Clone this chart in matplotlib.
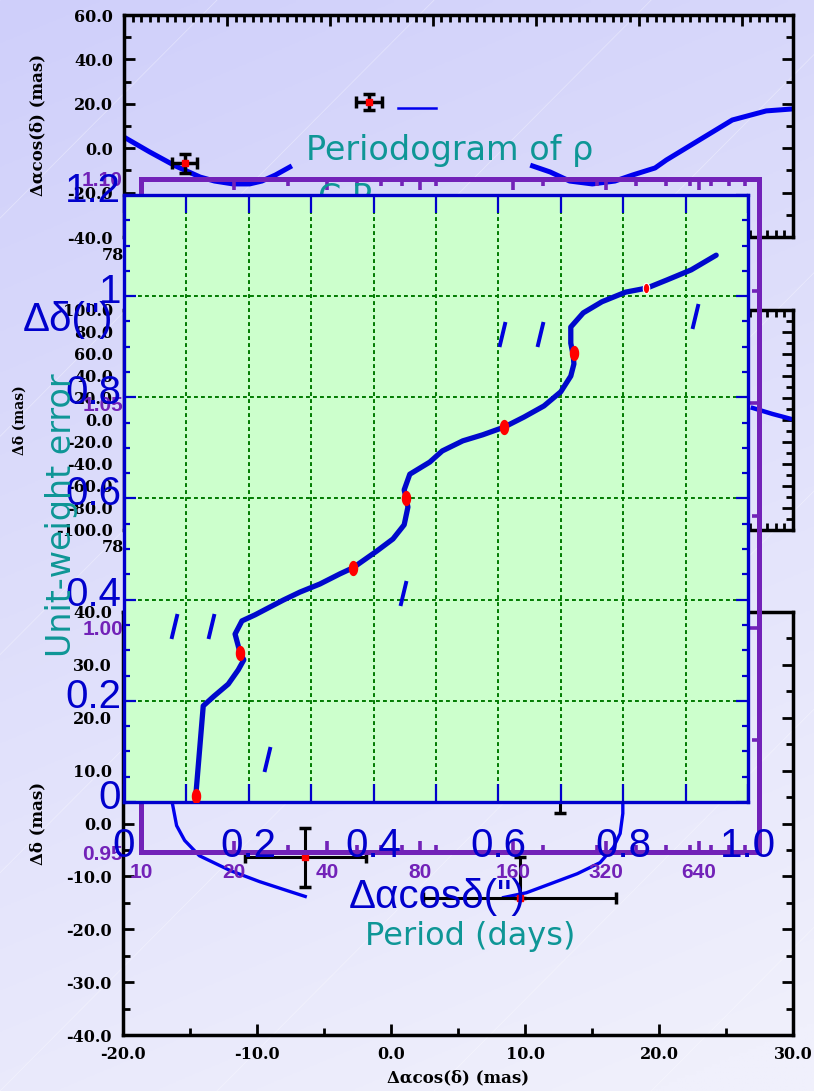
import numpy as np
import matplotlib.pyplot as plt
from matplotlib.ticker import MultipleLocator, LogLocator, NullFormatter
from matplotlib.path import Path
from matplotlib.transforms import ScaledTranslation
from matplotlib import font_manager

nan = np.nan

# ---- green panel (unit-weight error style curve) ----
curve_x = [0.115, 0.127, 0.144, 0.167, 0.183, 0.192, 0.186, 0.178, 0.189, 0.210,
           0.255, 0.282, 0.314, 0.346, 0.367, 0.405, 0.431, 0.449, 0.455, 0.452,
           0.449, 0.458, 0.490, 0.510, 0.543, 0.575, 0.609, 0.641, 0.673, 0.700,
           0.716, 0.721, 0.720, 0.716, 0.716, 0.736, 0.766, 0.804, 0.838, 0.870,
           0.909, 0.949]
curve_y = [0.012, 0.190, 0.209, 0.233, 0.261, 0.281, 0.295, 0.332, 0.358, 0.370,
           0.399, 0.415, 0.431, 0.451, 0.463, 0.496, 0.520, 0.548, 0.583, 0.601,
           0.617, 0.648, 0.672, 0.694, 0.714, 0.726, 0.741, 0.761, 0.783, 0.811,
           0.842, 0.866, 0.882, 0.907, 0.939, 0.967, 0.989, 1.008, 1.016, 1.032,
           1.052, 1.081]
dots_x = [0.115, 0.186, 0.367, 0.452, 0.609, 0.721, 0.837]
dots_y = [0.012, 0.295, 0.463, 0.601, 0.741, 0.888, 1.016]
slash_x = [0.080, 0.139, 0.229, 0.447, 0.606, 0.667, 0.915]
slash_y = [0.348, 0.348, 0.085, 0.413, 0.925, 0.925, 0.961]
green_xticks = [0, 0.1, 0.2, 0.3, 0.4, 0.5, 0.6, 0.7, 0.8, 0.9, 1.0]
green_xlabels = ['0', '', '0.2', '', '0.4', '', '0.6', '', '0.8', '', '1.0']
green_yticks = [0, 0.2, 0.4, 0.6, 0.8, 1.0, 1.2]
green_ylabels = ['0', '0.2', '0.4', '0.6', '0.8', '1', '1.2']

# ---- purple periodogram frame ----
period_ticks = [10, 20, 40, 80, 160, 320, 640]
uwe_ticks = [0.95, 1.00, 1.05, 1.10]
uwe_labels = ['0.95', '1.00', '1.05', '1.10']

# ---- black astrometry panels ----
top_t = [0.0, 0.25, 0.50, 0.74, 0.88, 1.06, 1.22, 1.34, 1.47, 1.61, nan,
         3.97, 4.14, 4.33, 4.55, 4.77, 4.94, 5.16, 5.27, 5.59, 5.91, 6.24, 6.50]
top_v = [5.0, -1.7, -8.0, -13.0, -14.8, -16.1, -16.1, -14.8, -12.1, -8.5, nan,
         -8.0, -10.7, -14.8, -16.1, -14.8, -12.1, -8.9, -5.3, 3.7, 12.7, 16.8, 17.7]
top_flat_t = [2.66, 3.03]
top_flat_v = [18.1, 18.1]
top_pts_t = [0.59, 2.38]
top_pts_v = [-6.7, 20.8]
top_pts_terr = [0.12, 0.13]
top_pts_verr = [4.3, 3.6]

mid_t = [6.11, 6.30, 6.50]
mid_v = [10.9, 5.5, 0.5]

orbit_x = [-16.3, -16.0, -15.4, -14.3, -12.0, -9.8, -7.5, -6.4, nan,
           8.4, 10.1, 11.9, 13.9, 15.6, 16.6, 17.1, 17.3, 17.3]
orbit_y = [3.6, -0.4, -3.2, -6.1, -8.9, -11.0, -12.9, -13.8, nan,
           -14.0, -13.1, -11.4, -9.5, -7.4, -4.5, -1.9, 1.9, 3.6]
obs_x = [-6.4, 9.6, 12.6]
obs_y = [-6.4, -14.0, 8.0]
obs_xerr = [4.5, 7.2, 0.3]
obs_yerr_lo = [5.6, 0.0, 6.0]
obs_yerr_hi = [5.6, 7.6, 6.0]

W, H = 814, 1091
BLUE = '#0000CC'
PURPLE = '#7222B8'
TEAL = '#0E9696'

names = {f.name for f in font_manager.fontManager.ttflist}
blue_font = 'Liberation Sans Narrow' if 'Liberation Sans Narrow' in names else 'Liberation Sans'
blue_size = 31 if blue_font == 'Liberation Sans Narrow' else 29

plt.rcParams['font.family'] = 'DejaVu Serif'
plt.rcParams['font.weight'] = 'bold'

fig = plt.figure(figsize=(W / 100, H / 100), dpi=100)


def box(x0, y0, x1, y1):
    return [x0 / W, 1 - y1 / H, (x1 - x0) / W, (y1 - y0) / H]


def ftext(x, y, s, **kw):
    return fig.text(x / W, 1 - y / H, s, ha='center', va='center', **kw)


# background gradient
bg = fig.add_axes([0, 0, 1, 1], zorder=-10)
yy, xx = np.mgrid[0:1:300j, 0:1:300j]
t = np.clip(0.8 * yy + 0.25 * xx, 0, 1)
c0 = np.array([207, 207, 250]) / 255
c1 = np.array([240, 240, 252]) / 255
bg.imshow(c0 + (c1 - c0) * t[..., None], extent=[0, 1, 0, 1], aspect='auto')
for k in np.linspace(-0.6, 1.0, 9):
    bg.plot([0, 1], [k, k + 0.75], color='white', lw=0.6, alpha=0.35)
bg.set_xlim(0, 1)
bg.set_ylim(0, 1)
bg.axis('off')


def black_style(ax):
    ax.set_facecolor('none')
    for s in ax.spines.values():
        s.set_linewidth(2.5)
    ax.tick_params(which='both', direction='in', top=True, right=True,
                   width=2, labelsize=11.5, pad=8)
    ax.tick_params(which='major', length=8)
    ax.tick_params(which='minor', length=5)


# top panel
ax_t = fig.add_axes(box(124, 15, 793, 237), zorder=1)
black_style(ax_t)
ax_t.plot(top_t, top_v, color='#0000EE', lw=3.6)
ax_t.plot(top_flat_t, top_flat_v, color='#0000EE', lw=1.8)
ax_t.errorbar(top_pts_t, top_pts_v, xerr=top_pts_terr, yerr=top_pts_verr, fmt='s',
              color='red', ms=5, ecolor='black', elinewidth=2.5, capsize=4, capthick=2.5)
ax_t.set_xlim(0, 6.5)
ax_t.set_ylim(-40, 60)
ax_t.xaxis.set_major_locator(MultipleLocator(1))
ax_t.xaxis.set_minor_locator(MultipleLocator(1 / 12))
ax_t.tick_params(labelbottom=False)
ax_t.set_yticks(np.arange(-40, 61, 20), [f'{v:.1f}' for v in np.arange(-40, 61, 20)])
ax_t.yaxis.set_minor_locator(MultipleLocator(10))

# middle panel
ax_m = fig.add_axes(box(124, 310, 793, 530), zorder=1)
black_style(ax_m)
ax_m.plot(mid_t, mid_v, color='#0000EE', lw=3.2)
ax_m.set_xlim(0, 6.5)
ax_m.set_ylim(-100, 100)
ax_m.xaxis.set_major_locator(MultipleLocator(1))
ax_m.xaxis.set_minor_locator(MultipleLocator(1 / 12))
ax_m.tick_params(labelbottom=False)
ax_m.set_yticks(np.arange(-100, 101, 20), [f'{v:.1f}' for v in np.arange(-100, 101, 20)])
ax_m.yaxis.set_minor_locator(MultipleLocator(10))

# bottom panel
ax_b = fig.add_axes(box(123, 612, 793, 1035), zorder=1)
black_style(ax_b)
ax_b.plot(orbit_x, orbit_y, color='#0000EE', lw=2.4)
ax_b.errorbar(obs_x, obs_y, xerr=obs_xerr, yerr=[obs_yerr_lo, obs_yerr_hi], fmt='s',
              color='red', ms=4, ecolor='black', elinewidth=2.2, capsize=4, capthick=2.5)
ax_b.set_xlim(-20, 30)
ax_b.set_ylim(-40, 40)
ax_b.set_xticks(np.arange(-20, 31, 10), [f'{v:.1f}' for v in np.arange(-20, 31, 10)])
ax_b.xaxis.set_minor_locator(MultipleLocator(5))
ax_b.set_yticks(np.arange(-40, 41, 10), [f'{v:.1f}' for v in np.arange(-40, 41, 10)])
ax_b.yaxis.set_minor_locator(MultipleLocator(5))

ftext(38, 125, 'Δαcos(δ) (mas)', rotation=90, fontsize=12, zorder=1.5)
ftext(20, 420, 'Δδ (mas)', rotation=90, fontsize=10, zorder=1.5)
ftext(38, 823, 'Δδ (mas)', rotation=90, fontsize=12, zorder=1.5)
ftext(458, 1078, 'Δαcos(δ) (mas)', fontsize=12, zorder=1.5)
ftext(113, 255, '78', fontsize=11.5, zorder=1.5)
ftext(113, 548, '78', fontsize=11.5, zorder=1.5)

# purple periodogram frame
ax_p = fig.add_axes(box(141, 179, 759, 852), zorder=2)
ax_p.set_facecolor('none')
ax_p.set_xscale('log')
ax_p.set_xlim(10, 1000)
ax_p.set_ylim(0.95, 1.10)
for s in ax_p.spines.values():
    s.set_linewidth(3.6)
    s.set_color(PURPLE)
ax_p.set_xticks(period_ticks, [str(p) for p in period_ticks], color=PURPLE,
                fontfamily='Liberation Sans', fontweight='bold', fontsize=15)
ax_p.xaxis.set_minor_locator(LogLocator(base=10, subs=np.arange(2, 10)))
ax_p.xaxis.set_minor_formatter(NullFormatter())
ax_p.set_yticks(uwe_ticks, uwe_labels, color=PURPLE,
                fontfamily='Liberation Sans', fontweight='bold', fontsize=15)
ax_p.yaxis.set_minor_locator(MultipleLocator(0.025))
ax_p.tick_params(which='both', direction='in', top=True, right=True,
                 color=PURPLE, width=2.6)
ax_p.tick_params(axis='x', pad=8)
ax_p.tick_params(axis='y', pad=13)
ax_p.tick_params(which='major', length=8)
ax_p.tick_params(which='minor', length=5)

ftext(345, 198, 'C P', fontsize=24, color=TEAL, family='DejaVu Sans',
      fontweight='normal', zorder=2.5)

# green panel on top
ax_g = fig.add_axes(box(124, 195, 748, 802), zorder=3)
ax_g.set_facecolor('#CCFFCC')
for s in ax_g.spines.values():
    s.set_linewidth(2.4)
    s.set_color(BLUE)
ax_g.grid(True, color='#007A00', lw=1.4, ls=(0, (2, 1.6)))
ax_g.plot(curve_x, curve_y, color='#0008CC', lw=3.8, solid_capstyle='round',
          solid_joinstyle='round', zorder=3)
th = np.linspace(0, 2 * np.pi, 40)
ell = Path(np.column_stack([0.62 * np.cos(th), np.sin(th)]), closed=True)
ax_g.plot(dots_x[:-1], dots_y[:-1], ls='none', marker=ell, ms=11, color='red', mec='none', zorder=4)
ax_g.plot(dots_x[-1:], dots_y[-1:], ls='none', marker=ell, ms=7.5, color='red', mec='white', mew=0.8, zorder=4)
slash = Path([(-0.12, -0.5), (0.12, 0.5)], [Path.MOVETO, Path.LINETO])
ax_g.plot(slash_x, slash_y, ls='none', marker=slash, ms=18, mec='#0000DD', mew=2.8, zorder=4)
ax_g.set_xlim(0, 1)
ax_g.set_ylim(0, 1.2)
ax_g.set_xticks(green_xticks, green_xlabels, color=BLUE, fontfamily=blue_font,
                fontweight='normal', fontsize=blue_size)
ax_g.set_yticks(green_yticks, green_ylabels, color=BLUE, fontfamily=blue_font,
                fontweight='normal', fontsize=blue_size)
ax_g.yaxis.set_minor_locator(MultipleLocator(0.05))
ax_g.tick_params(which='both', direction='in', top=True, right=True, color=BLUE, width=1.6)
ax_g.tick_params(axis='x', which='major', length=13, pad=18)
ax_g.tick_params(axis='y', which='major', length=8.6, pad=2)
ax_g.tick_params(axis='y', which='minor', length=4.3)
for lab in ax_g.get_yticklabels():
    lab.set_transform(lab.get_transform() + ScaledTranslation(0, 6 / 72, fig.dpi_scale_trans))

ftext(68, 320, 'Δδ(")', fontsize=blue_size, color=BLUE, family=blue_font,
      fontweight='normal', zorder=5)
ftext(437, 897, 'Δαcosδ(")', fontsize=blue_size, color=BLUE, family=blue_font,
      fontweight='normal', zorder=5)

# teal periodogram texts
ftext(450, 150, 'Periodogram of ρ', fontsize=24, color=TEAL, family='DejaVu Sans',
      fontweight='normal', zorder=5)
ftext(470, 937, 'Period (days)', fontsize=23, color=TEAL, family='DejaVu Sans',
      fontweight='normal', zorder=5)
ftext(62, 515, 'Unit-weight error', rotation=90, fontsize=24, color=TEAL,
      family='DejaVu Sans', fontweight='normal', zorder=5)

fig.savefig('out.png', dpi=100)
